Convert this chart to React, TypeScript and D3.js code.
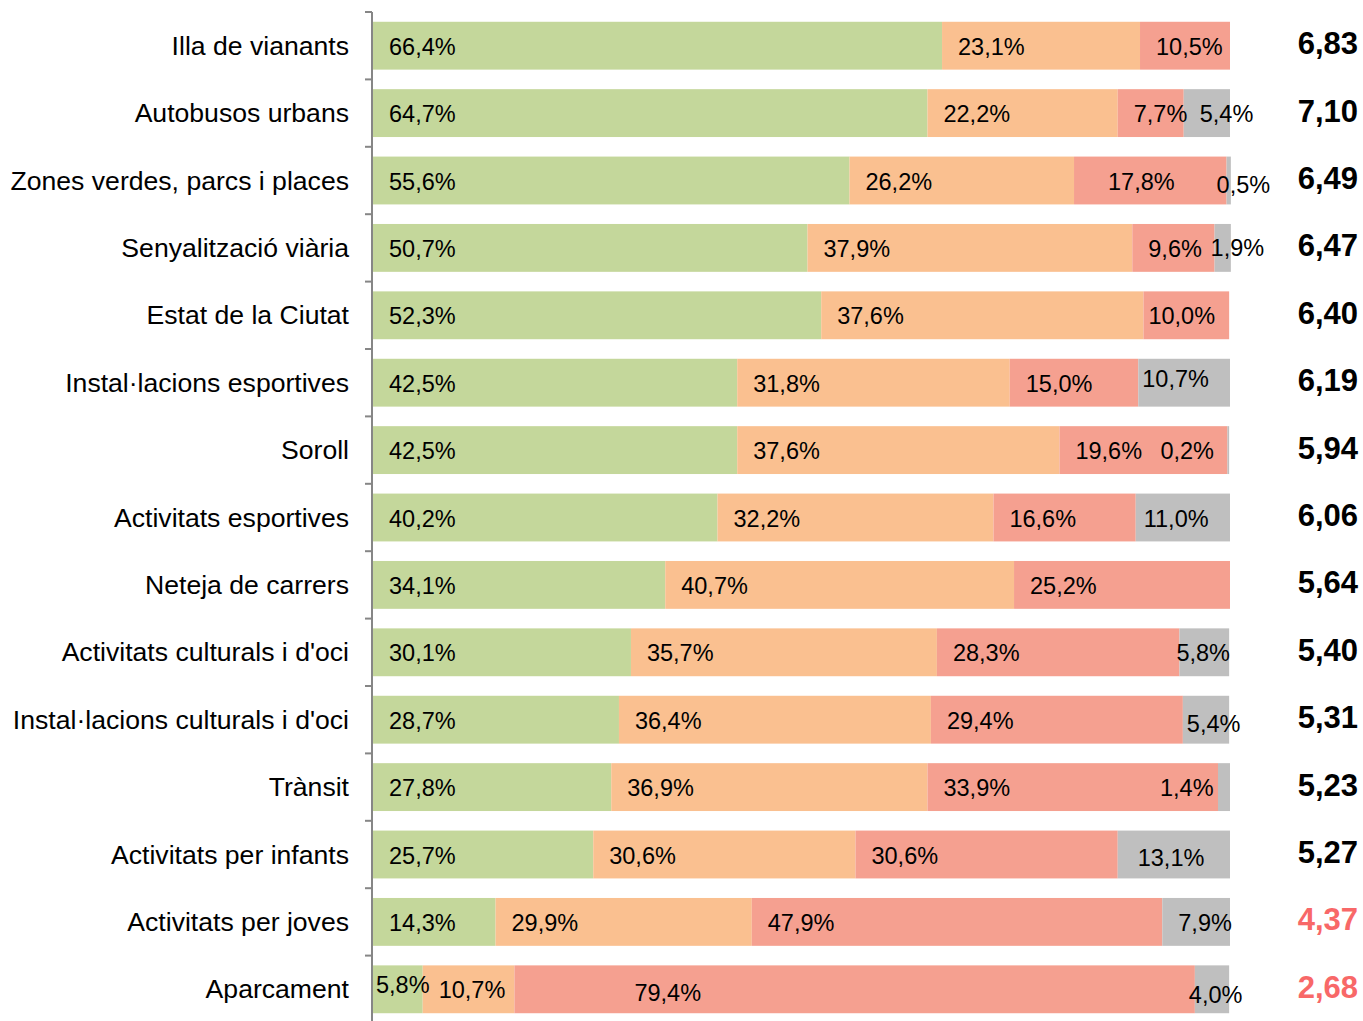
import React from 'react';
import * as d3 from 'd3';

const categories = [
  'Illa de vianants',
  'Autobusos urbans',
  'Zones verdes, parcs i places',
  'Senyalització viària',
  'Estat de la Ciutat',
  'Instal·lacions esportives',
  'Soroll',
  'Activitats esportives',
  'Neteja de carrers',
  "Activitats culturals i d'oci",
  "Instal·lacions culturals i d'oci",
  'Trànsit',
  'Activitats per infants',
  'Activitats per joves',
  'Aparcament',
];

const satisfied = [66.4, 64.7, 55.6, 50.7, 52.3, 42.5, 42.5, 40.2, 34.1, 30.1, 28.7, 27.8, 25.7, 14.3, 5.8];
const neutral = [23.1, 22.2, 26.2, 37.9, 37.6, 31.8, 37.6, 32.2, 40.7, 35.7, 36.4, 36.9, 30.6, 29.9, 10.7];
const unsatisfied = [10.5, 7.7, 17.8, 9.6, 10.0, 15.0, 19.6, 16.6, 25.2, 28.3, 29.4, 33.9, 30.6, 47.9, 79.4];
const noAnswer = [0, 5.4, 0.5, 1.9, 0, 10.7, 0.2, 11.0, 0, 5.8, 5.4, 1.4, 13.1, 7.9, 4.0];
const scores = [6.83, 7.1, 6.49, 6.47, 6.4, 6.19, 5.94, 6.06, 5.64, 5.4, 5.31, 5.23, 5.27, 4.37, 2.68];

const keys = ['satisfied', 'neutral', 'unsatisfied', 'noAnswer'];
const colors: Record<string, string> = {
  satisfied: '#C4D79B',
  neutral: '#FAC090',
  unsatisfied: '#F5A090',
  noAnswer: '#BFBFBF',
};

// label nudges, Excel placed some labels by hand
const nudges: Record<string, [number, number]> = {
  '2-unsatisfied': [34, 0],
  '2-noAnswer': [-10, 3],
  '3-noAnswer': [-4, -1],
  '4-unsatisfied': [5, 0],
  '5-noAnswer': [4, -5],
  '6-noAnswer': [-67, 0],
  '7-noAnswer': [8, 0],
  '9-noAnswer': [-3, 0],
  '10-noAnswer': [4, 3],
  '11-noAnswer': [-58, 0],
  '12-noAnswer': [20, 2],
  '14-satisfied': [3, -5],
  '14-unsatisfied': [120, 3],
  '14-noAnswer': [-6, 5],
};

const fmt = (v: number) => v.toFixed(1).replace('.', ',') + '%';
const fmtScore = (v: number) => v.toFixed(2).replace('.', ',');

export default function App() {
  const width = 1363;
  const height = 1021;
  const x0 = 373;
  const x1 = 1230;

  const rows = categories.map((c, i) => ({
    category: c,
    satisfied: satisfied[i],
    neutral: neutral[i],
    unsatisfied: unsatisfied[i],
    noAnswer: noAnswer[i],
  }));

  const x = d3.scaleLinear().domain([0, 100]).range([x0, x1]);
  const y = d3.scaleBand().domain(categories).range([12, 1023]).paddingInner(0.29).paddingOuter(0.145);
  const stack = d3.stack<any>().keys(keys)(rows);
  const step = y.step();

  return (
    <div style={{ position: 'absolute', left: 0, top: 0 }}>
      <svg width={width} height={height} style={{ display: 'block', fontFamily: 'Liberation Sans, Arial, sans-serif' }}>
        {stack.map((layer) => (
          <g key={layer.key}>
            {layer.map((d, i) => {
              const v = d[1] - d[0];
              if (v <= 0) return null;
              const yy = y(categories[i])!;
              return (
                <rect
                  key={i}
                  x={x(d[0])}
                  y={yy}
                  width={x(d[1]) - x(d[0])}
                  height={y.bandwidth()}
                  fill={colors[layer.key]}
                />
              );
            })}
          </g>
        ))}
        {stack.map((layer) => (
          <g key={'l' + layer.key}>
            {layer.map((d, i) => {
              const v = d[1] - d[0];
              if (v <= 0) return null;
              const n = nudges[i + '-' + layer.key];
              const dx = n ? n[0] : 16;
              const dy = n ? n[1] : 0;
              const cy = y(categories[i])! + y.bandwidth() / 2;
              return (
                <text key={i} x={x(d[0]) + dx} y={cy + 1 + dy} fontSize={23.5} dominantBaseline="central" fill="#000">
                  {fmt(v)}
                </text>
              );
            })}
          </g>
        ))}
        {/* axis */}
        <g stroke="#868686" strokeWidth={2} fill="none">
          <line x1={x0 - 1} x2={x0 - 1} y1={y.range()[0]} y2={y.range()[1]} />
          {d3.range(categories.length + 1).map((k) => {
            const ty = y.range()[0] + k * step;
            return <line key={k} x1={x0 - 8} x2={x0 - 1} y1={ty} y2={ty} />;
          })}
        </g>
        {categories.map((c, i) => (
          <text
            key={c}
            x={349}
            y={y(c)! + y.bandwidth() / 2}
            textAnchor="end"
            dominantBaseline="central"
            fontSize={26.6}
            fill="#000"
          >
            {c}
          </text>
        ))}
        {scores.map((s, i) => (
          <text
            key={i}
            x={1358}
            y={y(categories[i])! + y.bandwidth() / 2 - 2}
            textAnchor="end"
            dominantBaseline="central"
            fontSize={31}
            fontWeight="bold"
            fill={s < 5 ? '#F86868' : '#000'}
          >
            {fmtScore(s)}
          </text>
        ))}
      </svg>
    </div>
  );
}
